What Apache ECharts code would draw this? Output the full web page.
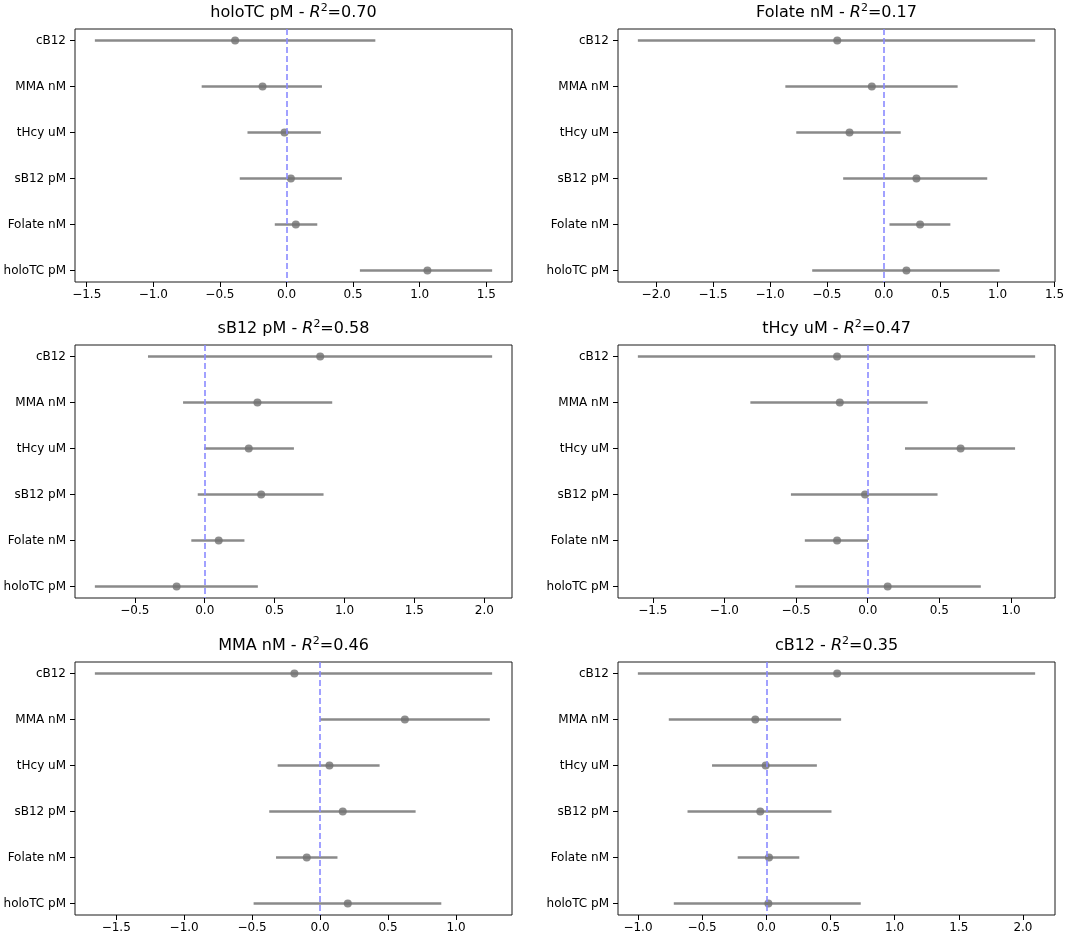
<!DOCTYPE html>
<html>
<head>
<meta charset="utf-8">
<script src="https://cdn.jsdelivr.net/npm/echarts@6/dist/echarts.min.js"></script>
<style>
html,body{margin:0;padding:0;background:#fff;}
#chart{width:1084px;height:938px;}
</style>
</head>
<body>
<div id="chart"></div>
<script>
// Categories (top to bottom)
const categories = ['cB12', 'MMA nM', 'tHcy uM', 'sB12 pM', 'Folate nM', 'holoTC pM'];

// Panel titles and R^2
const panelNames = ['holoTC pM', 'Folate nM', 'sB12 pM', 'tHcy uM', 'MMA nM', 'cB12'];
const r2Values = ['0.70', '0.17', '0.58', '0.47', '0.46', '0.35'];

// Coefficients and confidence limits per panel (order as categories)
const holoTC_coef = [-0.386, -0.180, -0.015, 0.033, 0.070, 1.058];
const holoTC_low  = [-1.439, -0.637, -0.293, -0.351, -0.088, 0.551];
const holoTC_high = [0.667, 0.266, 0.258, 0.416, 0.231, 1.544];

const folate_coef = [-0.409, -0.105, -0.301, 0.287, 0.319, 0.199];
const folate_low  = [-2.161, -0.865, -0.769, -0.357, 0.050, -0.629];
const folate_high = [1.330, 0.649, 0.149, 0.909, 0.585, 1.018];

const sB12_coef = [0.826, 0.377, 0.315, 0.404, 0.100, -0.201];
const sB12_low  = [-0.406, -0.155, -0.005, -0.050, -0.096, -0.786];
const sB12_high = [2.056, 0.912, 0.638, 0.850, 0.284, 0.380];

const tHcy_coef = [-0.214, -0.195, 0.648, -0.019, -0.214, 0.139];
const tHcy_low  = [-1.604, -0.819, 0.260, -0.536, -0.439, -0.506];
const tHcy_high = [1.168, 0.418, 1.028, 0.487, 0.002, 0.789];

const MMA_coef = [-0.189, 0.624, 0.069, 0.167, -0.098, 0.204];
const MMA_low  = [-1.657, 0.000, -0.312, -0.374, -0.324, -0.489];
const MMA_high = [1.266, 1.249, 0.438, 0.703, 0.128, 0.892];

const cB12_coef = [0.552, -0.086, -0.005, -0.047, 0.021, 0.016];
const cB12_low  = [-1.001, -0.760, -0.423, -0.614, -0.223, -0.721];
const cB12_high = [2.095, 0.583, 0.394, 0.508, 0.257, 0.736];

// x tick values per panel
const ticks1 = [-1.5, -1.0, -0.5, 0.0, 0.5, 1.0, 1.5];
const ticks2 = [-2.0, -1.5, -1.0, -0.5, 0.0, 0.5, 1.0, 1.5];
const ticks3 = [-0.5, 0.0, 0.5, 1.0, 1.5, 2.0];
const ticks4 = [-1.5, -1.0, -0.5, 0.0, 0.5, 1.0];
const ticks5 = [-1.5, -1.0, -0.5, 0.0, 0.5, 1.0];
const ticks6 = [-1.0, -0.5, 0.0, 0.5, 1.0, 1.5, 2.0];

const panels = [
  {coef: holoTC_coef, low: holoTC_low, high: holoTC_high, ticks: ticks1},
  {coef: folate_coef, low: folate_low, high: folate_high, ticks: ticks2},
  {coef: sB12_coef, low: sB12_low, high: sB12_high, ticks: ticks3},
  {coef: tHcy_coef, low: tHcy_low, high: tHcy_high, ticks: ticks4},
  {coef: MMA_coef, low: MMA_low, high: MMA_high, ticks: ticks5},
  {coef: cB12_coef, low: cB12_low, high: cB12_high, ticks: ticks6}
];

// layout
const boxLefts = [75, 618];
const boxTops = [29, 345, 662];
const boxW = 437, boxH = 253;
const FONT = 'DejaVu Sans';

const grids = [], xAxes = [], yAxes = [], series = [], titles = [];
const catIdx = categories.map((c, i) => i);

panels.forEach((p, k) => {
  const col = k % 2, row = Math.floor(k / 2);
  const left = boxLefts[col], top = boxTops[row];
  grids.push({left: left, top: top, width: boxW, height: boxH, show: true,
    borderColor: '#1a1a1a', borderWidth: 1, backgroundColor: 'transparent'});
  const lo = Math.min(...p.low), hi = Math.max(...p.high);
  const margin = (hi - lo) * 0.05;
  xAxes.push({
    type: 'value', gridIndex: k, min: lo - margin, max: hi + margin, position: 'bottom',
    splitLine: {show: false},
    axisLine: {show: false, onZero: false},
    axisTick: {show: true, length: 5, lineStyle: {color: '#000', width: 1}, customValues: p.ticks},
    axisLabel: {customValues: p.ticks, color: '#000', fontFamily: FONT, fontSize: 12, margin: 7,
      formatter: v => (Math.round(v * 10) / 10).toFixed(1).replace('-', '\u2212')}
  });
  yAxes.push({
    type: 'value', gridIndex: k, min: -0.25, max: 5.25, inverse: true, position: 'left',
    splitLine: {show: false},
    axisLine: {show: false, onZero: false},
    axisTick: {show: true, length: 5, lineStyle: {color: '#000', width: 1}, customValues: catIdx},
    axisLabel: {customValues: catIdx, color: '#000', fontFamily: FONT, fontSize: 12, margin: 9,
      formatter: v => categories[Math.round(v)]}
  });
  titles.push({
    text: '{n|' + panelNames[k] + ' - }{i|R}{s|2}{n|=' + r2Values[k] + '}',
    left: left + boxW / 2, top: top - 26, textAlign: 'center', padding: 0,
    textStyle: {
      fontWeight: 'normal',
      rich: {
        n: {fontFamily: FONT, fontSize: 16, fontWeight: 'normal', color: '#000', lineHeight: 20},
        i: {fontFamily: FONT, fontSize: 16, fontWeight: 'normal', fontStyle: 'italic', color: '#000', lineHeight: 20},
        s: {fontFamily: FONT, fontSize: 11, fontWeight: 'normal', color: '#000', verticalAlign: 'top', lineHeight: 20, padding: [0, 0, 7, 0]}
      }
    }
  });
  const ciData = categories.map((c, i) => [p.low[i], p.high[i], i]);
  series.push({
    type: 'custom', xAxisIndex: k, yAxisIndex: k, silent: true,
    data: ciData,
    encode: {x: [0, 1], y: 2},
    renderItem: function (params, api) {
      const y = api.value(2);
      const a = api.coord([api.value(0), y]);
      const b = api.coord([api.value(1), y]);
      return {type: 'line', shape: {x1: a[0], y1: a[1], x2: b[0], y2: b[1]},
        style: {stroke: '#8a8a8a', lineWidth: 2.5}};
    },
    z: 2
  });
  series.push({
    type: 'scatter', xAxisIndex: k, yAxisIndex: k, silent: true,
    data: categories.map((c, i) => [p.coef[i], i]),
    symbol: 'circle', symbolSize: 8,
    itemStyle: {color: '#707070'},
    z: 3,
    markLine: {
      silent: true, symbol: 'none', label: {show: false},
      lineStyle: {color: '#8a8aff', type: [6, 3], width: 1.6},
      data: [{xAxis: 0}]
    }
  });
});

const chart = echarts.init(document.getElementById('chart'), null, {renderer: 'canvas'});
chart.setOption({
  animation: false,
  backgroundColor: '#fff',
  title: titles,
  grid: grids,
  xAxis: xAxes,
  yAxis: yAxes,
  series: series
});
</script>
</body>
</html>
